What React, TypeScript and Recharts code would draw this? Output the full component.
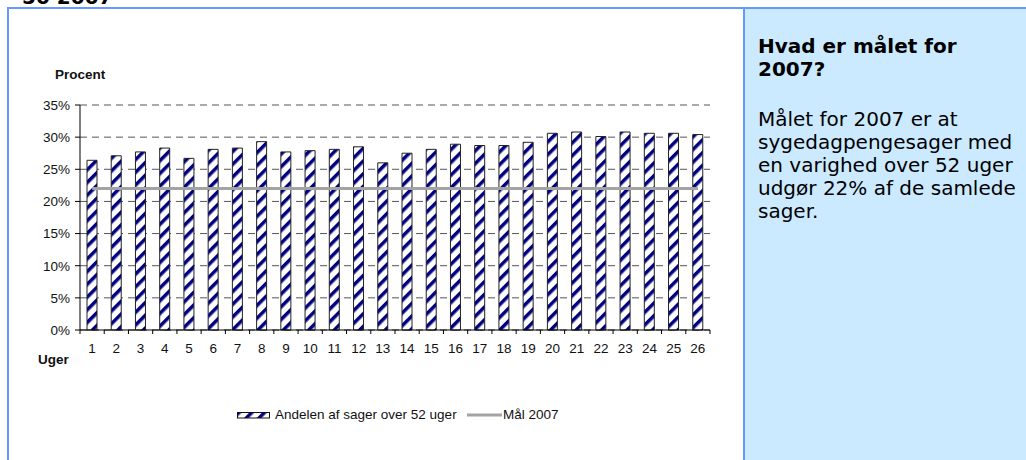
import React from "react";
import {
  ComposedChart,
  Bar,
  Line,
  XAxis,
  YAxis,
  CartesianGrid,
} from "recharts";

const weeks = [
  "1", "2", "3", "4", "5", "6", "7", "8", "9", "10", "11", "12", "13",
  "14", "15", "16", "17", "18", "19", "20", "21", "22", "23", "24", "25", "26",
];

const andel = [
  26.4, 27.1, 27.7, 28.3, 26.7, 28.1, 28.3, 29.3, 27.7, 27.9, 28.1, 28.5, 26.0,
  27.5, 28.1, 28.9, 28.7, 28.7, 29.2, 30.6, 30.8, 30.1, 30.8, 30.6, 30.6, 30.4,
];

const maal = [
  22, 22, 22, 22, 22, 22, 22, 22, 22, 22, 22, 22, 22,
  22, 22, 22, 22, 22, 22, 22, 22, 22, 22, 22, 22, 22,
];

const yTicks = [0, 5, 10, 15, 20, 25, 30, 35];

const data = weeks.map((w, i) => ({ week: w, andel: andel[i], maal: maal[i] }));

const CHART_W = 740;
const CHART_H = 460;
const MARGIN = { top: 105, right: 30, left: 0, bottom: 100 };
const Y_W = 80;
const PLOT_W = CHART_W - MARGIN.left - MARGIN.right - Y_W;
const STEP = PLOT_W / weeks.length;

const FONT = "'Liberation Sans', Arial, sans-serif";
const VERDANA = "'DejaVu Sans', Verdana, sans-serif";
const BLUE = "#6699ff";

function WeekTick(props: any) {
  const { x, y, payload, index } = props;
  const left = x - STEP / 2;
  return (
    <g>
      <line x1={left} x2={left} y1={y - 4} y2={y} stroke="#000" />
      {index === weeks.length - 1 && (
        <line x1={x + STEP / 2} x2={x + STEP / 2} y1={y - 4} y2={y} stroke="#000" />
      )}
      <text x={x} y={y} dy={19} textAnchor="middle" fill="#111" fontSize={13.5} fontFamily={FONT}>
        {payload.value}
      </text>
    </g>
  );
}

function Stripes({ id }: { id: string }) {
  return (
    <pattern id={id} patternUnits="userSpaceOnUse" width="9" height="9" patternTransform="rotate(45)">
      <rect width="9" height="9" fill="#fff" />
      <rect width="3.5" height="9" fill="#000080" />
    </pattern>
  );
}

export default function App() {
  return (
    <div style={{ position: "absolute", left: 0, top: 0, width: 1026, height: 460, background: "#fff", overflow: "hidden" }}>
      {/* right panel + frame */}
      <div style={{ position: "absolute", left: 745, top: 9, width: 281, height: 451, background: "#cceaff" }} />
      <div style={{ position: "absolute", left: 7, top: 7, width: 1019, height: 2, background: BLUE }} />
      <div style={{ position: "absolute", left: 7, top: 7, width: 2, height: 453, background: BLUE }} />
      <div style={{ position: "absolute", left: 743, top: 7, width: 2, height: 453, background: BLUE }} />

      <div style={{ position: "absolute", left: 0, top: 0 }}>
        <ComposedChart width={CHART_W} height={CHART_H} data={data} margin={MARGIN}>
          <defs>
            <Stripes id="stripes" />
          </defs>
          <CartesianGrid vertical={false} stroke="#555" strokeDasharray="7 5" />
          <XAxis
            dataKey="week"
            interval={0}
            height={30}
            tickLine={false}
            tickSize={4}
            tickMargin={0}
            axisLine={{ stroke: "#000" }}
            tick={<WeekTick />}
          />
          <YAxis
            width={Y_W}
            domain={[0, 35]}
            ticks={yTicks}
            interval={0}
            tickSize={5}
            tickMargin={5}
            axisLine={{ stroke: "#000" }}
            tickLine={{ stroke: "#000" }}
            tickFormatter={(v: number) => `${v}%`}
            tick={{ fill: "#111", fontSize: 13.5, fontFamily: FONT }}
          />
          <Bar
            dataKey="andel"
            barSize={10}
            fill="url(#stripes)"
            stroke="#222"
            strokeWidth={1}
            isAnimationActive={false}
          />
          <Line
            dataKey="maal"
            type="linear"
            stroke="#a3a3a3"
            strokeWidth={3}
            dot={false}
            activeDot={false}
            isAnimationActive={false}
          />
        </ComposedChart>
      </div>

      <svg width={1026} height={460} style={{ position: "absolute", left: 0, top: 0, pointerEvents: "none" }}>
        <defs>
          <Stripes id="stripesLegend" />
        </defs>
        <text x={22} y={4} fontFamily={VERDANA} fontWeight="bold" fontSize={20} fill="#000">50 2007</text>

        <text x={55} y={79} fontFamily={FONT} fontWeight="bold" fontSize={13.5} fill="#111">Procent</text>
        <text x={38} y={364} fontFamily={FONT} fontWeight="bold" fontSize={13.5} fill="#111">Uger</text>

        {/* legend */}
        <rect x={237.5} y={412.5} width={32} height={5.5} fill="url(#stripesLegend)" stroke="#111" />
        <text x={275} y={418.5} fontFamily={FONT} fontSize={13.5} fill="#111">Andelen af sager over 52 uger</text>
        <line x1={467} x2={502} y1={415} y2={415} stroke="#a3a3a3" strokeWidth={3} />
        <text x={503} y={418.5} fontFamily={FONT} fontSize={13.5} fill="#111">Mål 2007</text>

        {/* right panel text */}
        <g fontFamily={VERDANA} fontSize={20} fill="#000">
          <text x={758} y={53} fontWeight="bold">Hvad er målet for</text>
          <text x={758} y={76} fontWeight="bold">2007?</text>
          <text x={758} y={126}>Målet for 2007 er at</text>
          <text x={758} y={149}>sygedagpengesager med</text>
          <text x={758} y={172}>en varighed over 52 uger</text>
          <text x={758} y={195}>udgør 22% af de samlede</text>
          <text x={758} y={218}>sager.</text>
        </g>
      </svg>
    </div>
  );
}
